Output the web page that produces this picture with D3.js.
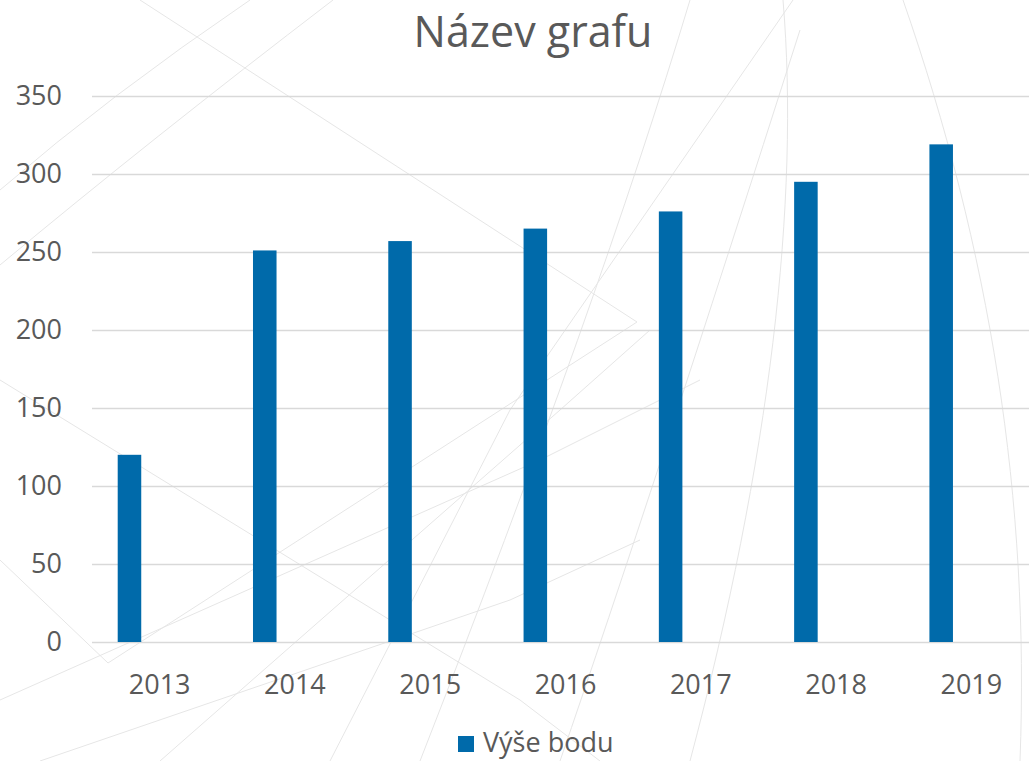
<!DOCTYPE html>
<html>
<head>
<meta charset="utf-8">
<script src="https://cdn.jsdelivr.net/npm/d3@7"></script>
<style>
  body { margin: 0; background: #fff; }
  svg { display: block; font-family: 'Open Sans', sans-serif; }
</style>
</head>
<body>
<div id="graf"></div>
<script>
// I. Datos
titulo = 'Název grafu'
serie = 'Výše bodu'
anos = ['2013', '2014', '2015', '2016', '2017', '2018', '2019']
valores = [120, 251, 257, 265, 276, 295, 319]
ticksY = [0, 50, 100, 150, 200, 250, 300, 350]

// II. Configuración
ancho_total = 1029
alto_total = 761
margins = { top: 96, left: 92, right: -10, bottom: 119 }
ancho = ancho_total - margins.left - margins.right
alto = alto_total - margins.top - margins.bottom

gris = '#595959'
azul = '#006aaa'

svg = d3.select('#graf').append('svg')
        .attr('width', ancho_total)
        .attr('height', alto_total)

svg.append('rect')
   .attr('width', ancho_total)
   .attr('height', alto_total)
   .attr('fill', '#fff')

// fondo decorativo (líneas tenues de la plantilla)
fondo = svg.append('g')
           .attr('fill', 'none')
           .attr('stroke', '#e6e6e6')
           .attr('stroke-width', 1)
decor = [
  'M0,190 Q110,95 250,0',
  'M0,265 Q150,140 333,0',
  'M140,0 L637,322',
  'M637,322 L108,663',
  'M108,663 L0,560',
  'M0,380 L520,700 L600,761',
  'M0,700 L540,460 L700,380',
  'M160,761 L560,410 L650,330',
  'M40,761 L510,600 L640,540',
  'M793,0 L510,410 L330,761',
  'M690,0 Q600,300 420,761',
  'M783,0 C800,200 770,460 690,761',
  'M903,0 C990,250 1030,500 1020,761',
  'M560,761 Q650,500 800,30'
]
fondo.selectAll('path')
     .data(decor)
     .enter()
     .append('path')
     .attr('d', d => d)

g = svg.append('g')
       .attr('transform', `translate(${ margins.left }, ${ margins.top })`)

// III. Escalas
x = d3.scaleBand()
      .domain(anos)
      .range([0, ancho])

y = d3.scaleLinear()
      .domain([0, 350])
      .range([alto, 0])

// IV. Ejes y rejilla
yAxisGroup = g.append('g')
yAxisGroup.call(d3.axisLeft(y).tickValues(ticksY).tickSize(-ancho).tickPadding(30))
yAxisGroup.select('.domain').remove()
yAxisGroup.selectAll('line')
          .attr('stroke', '#d9d9d9')
          .attr('stroke-width', 1.5)
yAxisGroup.selectAll('text')
          .attr('fill', gris)
          .style('font-size', '27px')
          .style('font-family', "'Open Sans', sans-serif")

xAxisGroup = g.append('g')
              .attr('transform', `translate(0, ${ alto })`)
xAxisGroup.call(d3.axisBottom(x).tickSize(0).tickPadding(0))
xAxisGroup.select('.domain').remove()
xAxisGroup.selectAll('text')
          .attr('fill', gris)
          .attr('dy', null)
          .attr('y', 52)
          .style('font-size', '27px')
          .style('font-family', "'Open Sans', sans-serif")

// V. Barras
anchoBarra = x.bandwidth() * 0.174
desfase = x.bandwidth() * 0.19

g.selectAll('rect.barra')
 .data(valores)
 .enter()
 .append('rect')
   .attr('class', 'barra')
   .attr('x', (d, i) => x(anos[i]) + desfase)
   .attr('y', d => y(d))
   .attr('width', anchoBarra)
   .attr('height', d => alto - y(d))
   .attr('fill', azul)

// VI. Título y leyenda
svg.append('text')
   .attr('x', 533)
   .attr('y', 47)
   .attr('text-anchor', 'middle')
   .attr('fill', gris)
   .style('font-size', '43px')
   .text(titulo)

leyenda = svg.append('g')
             .attr('transform', 'translate(458, 736)')
leyenda.append('rect')
       .attr('width', 16)
       .attr('height', 16)
       .attr('fill', azul)
leyenda.append('text')
       .attr('x', 25)
       .attr('y', 16)
       .attr('fill', gris)
       .style('font-size', '27px')
       .text(serie)
</script>
</body>
</html>
